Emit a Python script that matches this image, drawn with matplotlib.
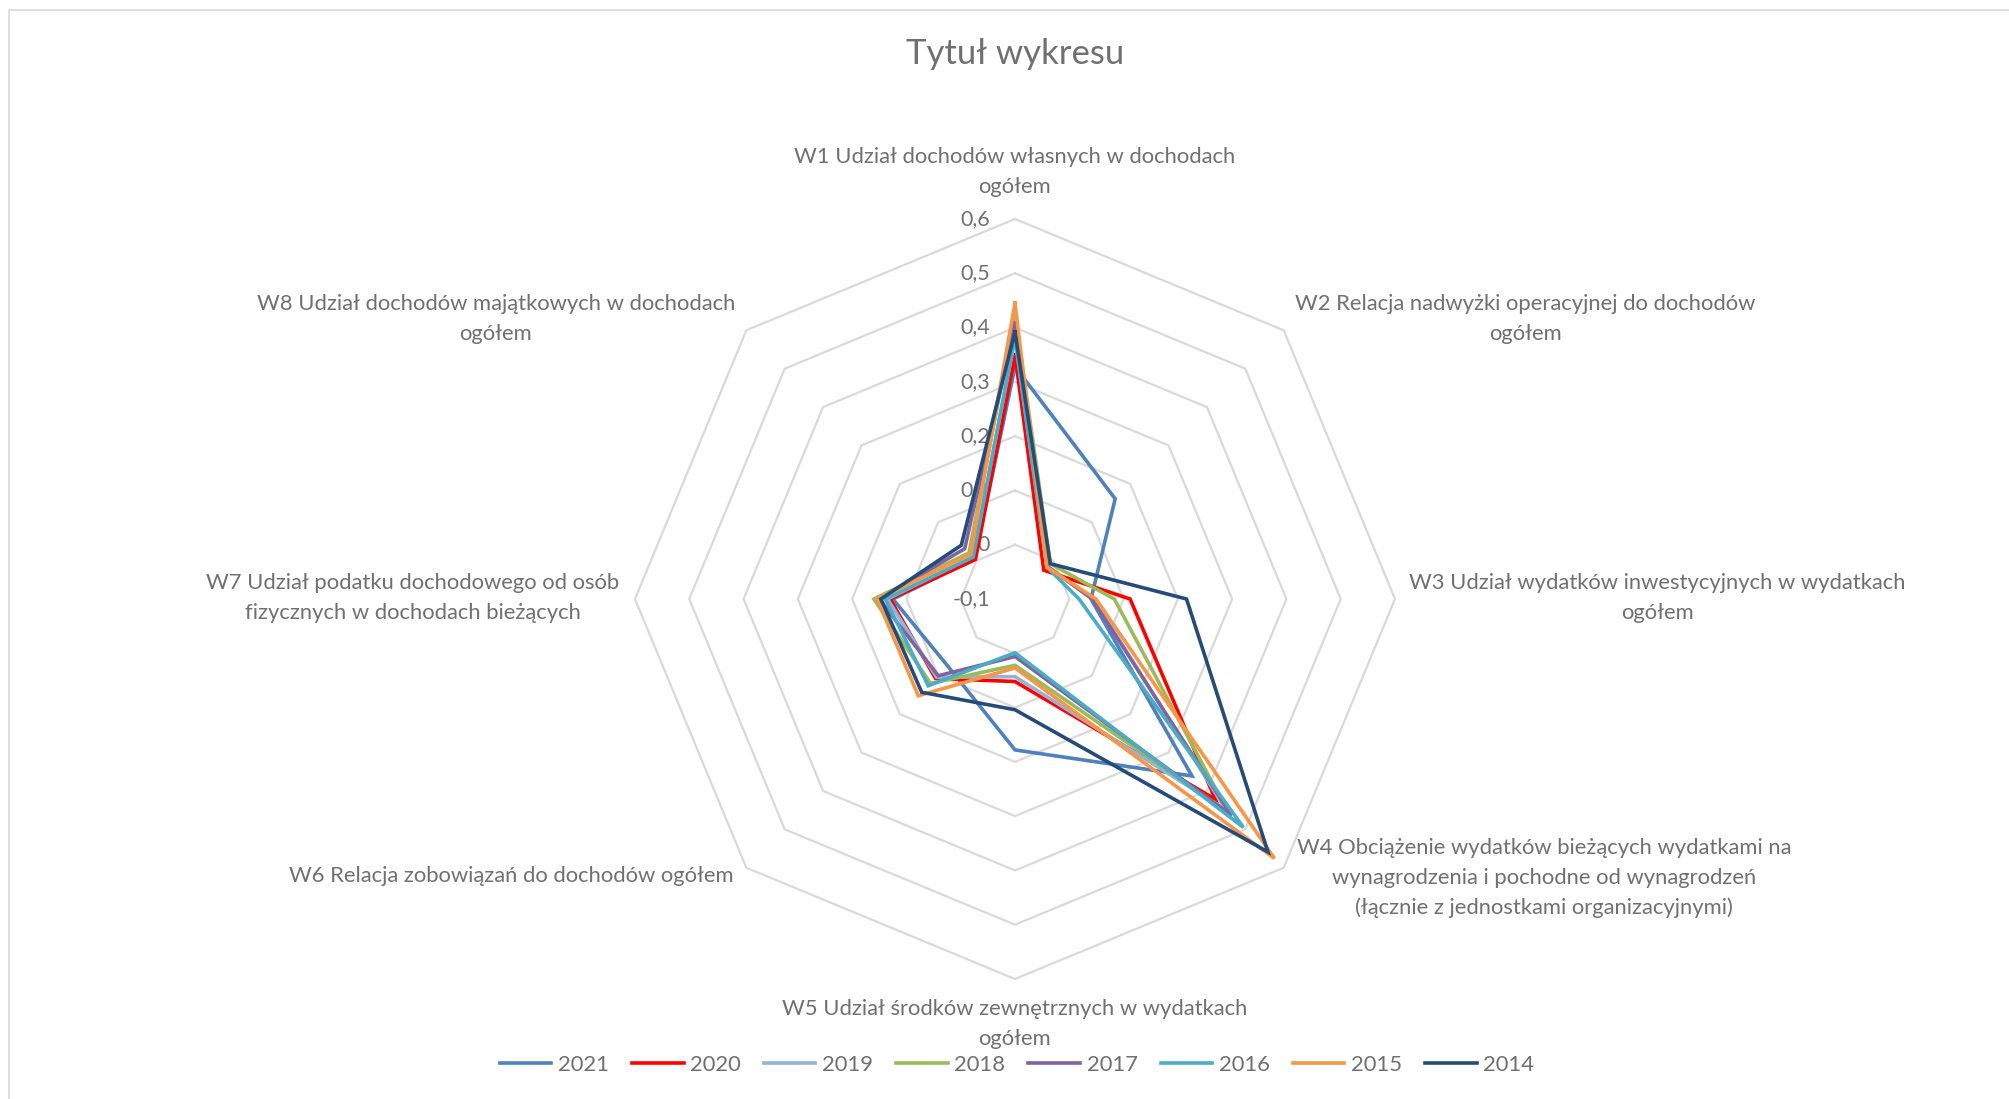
import numpy as np
import matplotlib
matplotlib.use("Agg")
import matplotlib.pyplot as plt
from matplotlib.transforms import offset_copy
from matplotlib.patches import Rectangle

# ---------------- data ----------------
categories = [
    "W1 Udział dochodów własnych w dochodach\nogółem",
    "W2 Relacja nadwyżki operacyjnej do dochodów\nogółem",
    "W3 Udział wydatków inwestycyjnych w wydatkach\nogółem",
    "W4 Obciążenie wydatków bieżących wydatkami na\nwynagrodzenia i pochodne od wynagrodzeń\n(łącznie z jednostkami organizacyjnymi)",
    "W5 Udział środków zewnętrznych w wydatkach\nogółem",
    "W6 Relacja zobowiązań do dochodów ogółem",
    "W7 Udział podatku dochodowego od osób\nfizycznych w dochodach bieżących",
    "W8 Udział dochodów majątkowych w dochodach\nogółem",
]
years = ["2021", "2020", "2019", "2018", "2017", "2016", "2015", "2014"]

v2021 = [0.328, 0.161, 0.040, 0.361, 0.178, 0.075, 0.125, 0.005]
v2020 = [0.349, -0.025, 0.112, 0.422, 0.052, 0.107, 0.130, 0.003]
v2019 = [0.380, -0.017, 0.045, 0.450, 0.043, 0.104, 0.135, 0.010]
v2018 = [0.423, -0.008, 0.083, 0.455, 0.022, 0.120, 0.160, 0.020]
v2017 = [0.408, -0.015, 0.042, 0.464, 0.006, 0.100, 0.150, 0.031]
v2016 = [0.383, -0.017, 0.018, 0.495, -0.001, 0.126, 0.139, 0.009]
v2015 = [0.445, -0.017, 0.049, 0.576, 0.027, 0.152, 0.154, 0.016]
v2014 = [0.392, -0.008, 0.216, 0.559, 0.104, 0.143, 0.147, 0.040]
series = [v2021, v2020, v2019, v2018, v2017, v2016, v2015, v2014]

colors = ["#4F81BD", "#FF0000", "#95B3D7", "#9BBB59",
          "#8064A2", "#4BACC6", "#F79646", "#254B78"]

ticks = [-0.1, 0.0, 0.1, 0.2, 0.3, 0.4, 0.5, 0.6]
tick_labels = ["-0,1", "0", "0,1", "0,2", "0,3", "0,4", "0,5", "0,6"]

# ---------------- figure ----------------
W, H = 2009, 1099
plt.rcParams["font.family"] = ["Lato", "DejaVu Sans"]
text_color = "#707070"
grid_color = "#D9D9D9"

fig = plt.figure(figsize=(W / 100, H / 100), dpi=100)

cx, cy, R = 1015, 599, 380  # pixels (from top)
ax = fig.add_axes([(cx - R) / W, 1 - (cy + R) / H, 2 * R / W, 2 * R / H],
                  projection="polar")
ax.set_theta_zero_location("N")
ax.set_theta_direction(-1)
ax.set_ylim(ticks[0], ticks[-1])
ax.axis("off")

n = len(categories)
angles = np.linspace(0, 2 * np.pi, n, endpoint=False)
ang_c = np.concatenate([angles, angles[:1]])

# octagonal grid rings
for t in ticks[1:]:
    ax.plot(ang_c, [t] * (n + 1), color=grid_color, lw=1.6, zorder=1,
            clip_on=False)

# data lines
handles = []
for vals, col, yr in zip(series, colors, years):
    vv = list(vals) + [vals[0]]
    ln, = ax.plot(ang_c, vv, color=col, lw=2.6, zorder=3, clip_on=False,
                  solid_joinstyle="miter", label=yr)
    handles.append(ln)

# radial tick labels
trans = offset_copy(ax.transData, fig=fig, x=-25, y=0, units="dots")
for t, lab in zip(ticks, tick_labels):
    ax.text(0, t, lab, transform=trans, ha="right", va="center",
            fontsize=15.5, color=text_color, zorder=2)

# category labels (pixel positions of text block centres)
label_pos = [(1015, 172), (1525, 319), (1657, 598), (1544, 878),
             (1015, 1024), (511, 876), (413, 598), (496, 319)]
for lab, (px, py) in zip(categories, label_pos):
    fig.text(px / W, 1 - py / H, lab, ha="center", va="center",
             fontsize=15.8, color=text_color, linespacing=1.6,
             multialignment="center")

# title
fig.text(1015 / W, 1 - 54 / H, "Tytuł wykresu", ha="center", va="center",
         fontsize=25, color=text_color)

# legend
fig.legend(handles, years, loc="center", bbox_to_anchor=(1017 / W, 1 - 1065 / H),
           ncol=8, frameon=False, fontsize=15.8, handlelength=2.35,
           handletextpad=0.3, columnspacing=1.05, labelcolor=text_color)

# chart area border
fig.add_artist(Rectangle((9 / W, -0.05), 1.2, 1 - 10 / H + 0.05,
                         transform=fig.transFigure, fill=False,
                         edgecolor=grid_color, lw=1.2))

fig.savefig("out.png", dpi=100, facecolor="white")
